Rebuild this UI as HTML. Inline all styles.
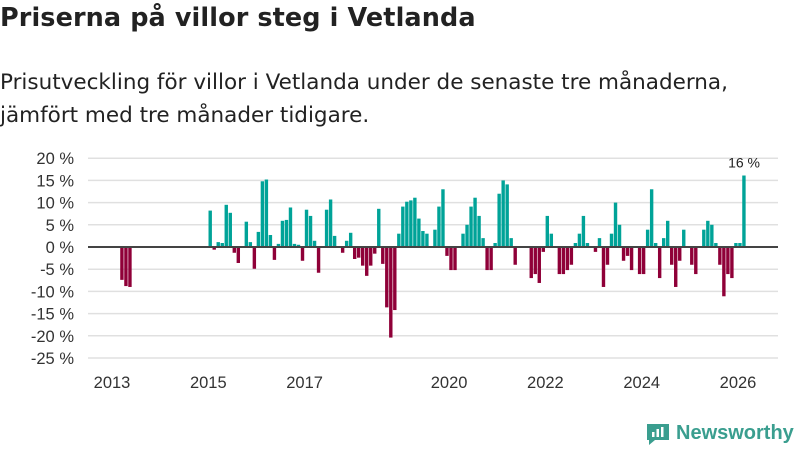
<!DOCTYPE html>
<html><head><meta charset="utf-8">
<style>
html,body{margin:0;padding:0;background:#fff;width:800px;height:450px;overflow:hidden;font-family:"Liberation Sans","DejaVu Sans",sans-serif;color:#222}
#title{position:absolute;left:0;top:3px;font-family:"DejaVu Sans",sans-serif;font-size:25.5px;font-weight:bold;margin:0;letter-spacing:0.1px;white-space:nowrap}
#subtitle{position:absolute;left:0;top:66px;font-family:"DejaVu Sans",sans-serif;font-size:21.5px;line-height:33px;margin:0;color:#222;white-space:nowrap;letter-spacing:0px}
svg{position:absolute;left:0;top:0}
#logo{position:absolute;left:645px;top:420px;display:flex;align-items:center;gap:5px;color:#3a9e8f;font-size:20px;font-weight:bold}
</style></head><body>
<h1 id="title">Priserna på villor steg i Vetlanda</h1>
<p id="subtitle">Prisutveckling för villor i Vetlanda under de senaste tre månaderna,<br>jämfört med tre månader tidigare.</p>
<svg id="chart" width="800" height="450"></svg>
<div id="logo">
<svg width="26" height="26" viewBox="0 0 26 26" style="position:static"><path d="M2 4h22v16H10l-6 5v-5H2z" fill="#3a9e8f"/><rect x="7" y="12" width="2.5" height="5" fill="#fff"/><rect x="11.5" y="9" width="2.5" height="8" fill="#fff"/><rect x="16" y="7" width="2.5" height="10" fill="#fff"/></svg>
<span>Newsworthy</span></div>
<script>
const startYear = 2013;
const values = [null,null,-7.4,-8.8,-9.0,null,null,null,null,null,null,null,null,null,null,null,null,null,null,null,null,null,null,null,
8.2,-0.6,1.1,0.9,9.5,7.7,-1.3,-3.6,0,5.7,1.1,-4.9,3.4,14.8,15.2,2.7,-2.9,0.7,5.9,6.1,8.9,0.7,0.5,-3.1,
8.4,7.0,1.4,-5.8,0,8.4,10.7,2.5,0,-1.3,1.4,3.2,-2.7,-2.4,-4.2,-6.5,-4.2,-1.5,8.6,-3.8,-13.6,-20.4,-14.2,3.0,
9.1,10.2,10.5,11.1,6.4,3.6,3.0,0,3.9,9.1,13.0,-2.0,-5.2,-5.2,0,3.0,5.0,9.1,11.1,7.0,2.0,-5.2,-5.2,0.9,
12.0,15.0,14.1,2.0,-4.0,0,0,0,-7.0,-6.1,-8.1,-1.1,7.0,3.0,0,-6.1,-6.1,-5.2,-4.0,0.9,3.0,7.0,0.9,0,
-1.1,2.0,-9.0,-4.0,3.0,10.0,5.0,-3.1,-2.0,-5.2,0,-6.1,-6.1,3.9,13.0,0.9,-7.0,2.0,5.9,-4.0,-9.0,-3.1,3.9,0,
-4.0,-6.1,0,3.9,5.9,5.0,0.9,-4.0,-11.1,-6.1,-7.0,0.9,0.9,16.1];
const categories = values.map((v,i)=>{const y=startYear+Math.floor(i/12);const m=i%12+1;return y+'-'+(m<10?'0':'')+m;});
const yTicks = [20,15,10,5,0,-5,-10,-15,-20,-25];
const xTickYears = [2013,2015,2017,2020,2022,2024,2026];
const lastLabel = "16 %";

const NS='http://www.w3.org/2000/svg';
const svg=document.getElementById('chart');
const x0=112, mw=4.013, plotL=88, plotR=778;
const yScale=v=>247-v*4.44;
const xScale=i=>x0+i*mw;
function mk(t,a){const e=document.createElementNS(NS,t);for(const k in a)e.setAttribute(k,a[k]);svg.appendChild(e);return e;}
yTicks.forEach(t=>{
  const g=mk('line',{x1:plotL,x2:plotR,y1:yScale(t),y2:yScale(t),stroke:'#e0e0e0','stroke-width':1.5});
  
  
  const l=mk('text',{x:74,y:yScale(t)+6,'text-anchor':'end','font-size':16.5,fill:'#333'});
  l.textContent=t+' %';
  
  
});
values.forEach((v,i)=>{
  if(v===null)return;
  const y=yScale(Math.max(v,0)),h=Math.abs(yScale(v)-yScale(0));
  const r=mk('rect',{x:xScale(i)+0.2,y:y,width:3.4,height:h,fill:v>=0?'#00a398':'#8f0038'});
  
  
});
const ax=mk('line',{x1:plotL,x2:plotR,y1:yScale(0),y2:yScale(0),stroke:'#444','stroke-width':2});


xTickYears.forEach(yr=>{
  const i=(yr-startYear)*12;
  const l=mk('text',{x:xScale(i),y:388,'text-anchor':'middle','font-size':16.5,fill:'#333'});
  l.textContent=yr;
  
  
});
const li=values.length-1;
const lab=mk('text',{x:xScale(li)+2,y:yScale(values[li])-8,'text-anchor':'middle','font-size':14,fill:'#222'});
lab.textContent=lastLabel;


</script>
</body></html>
